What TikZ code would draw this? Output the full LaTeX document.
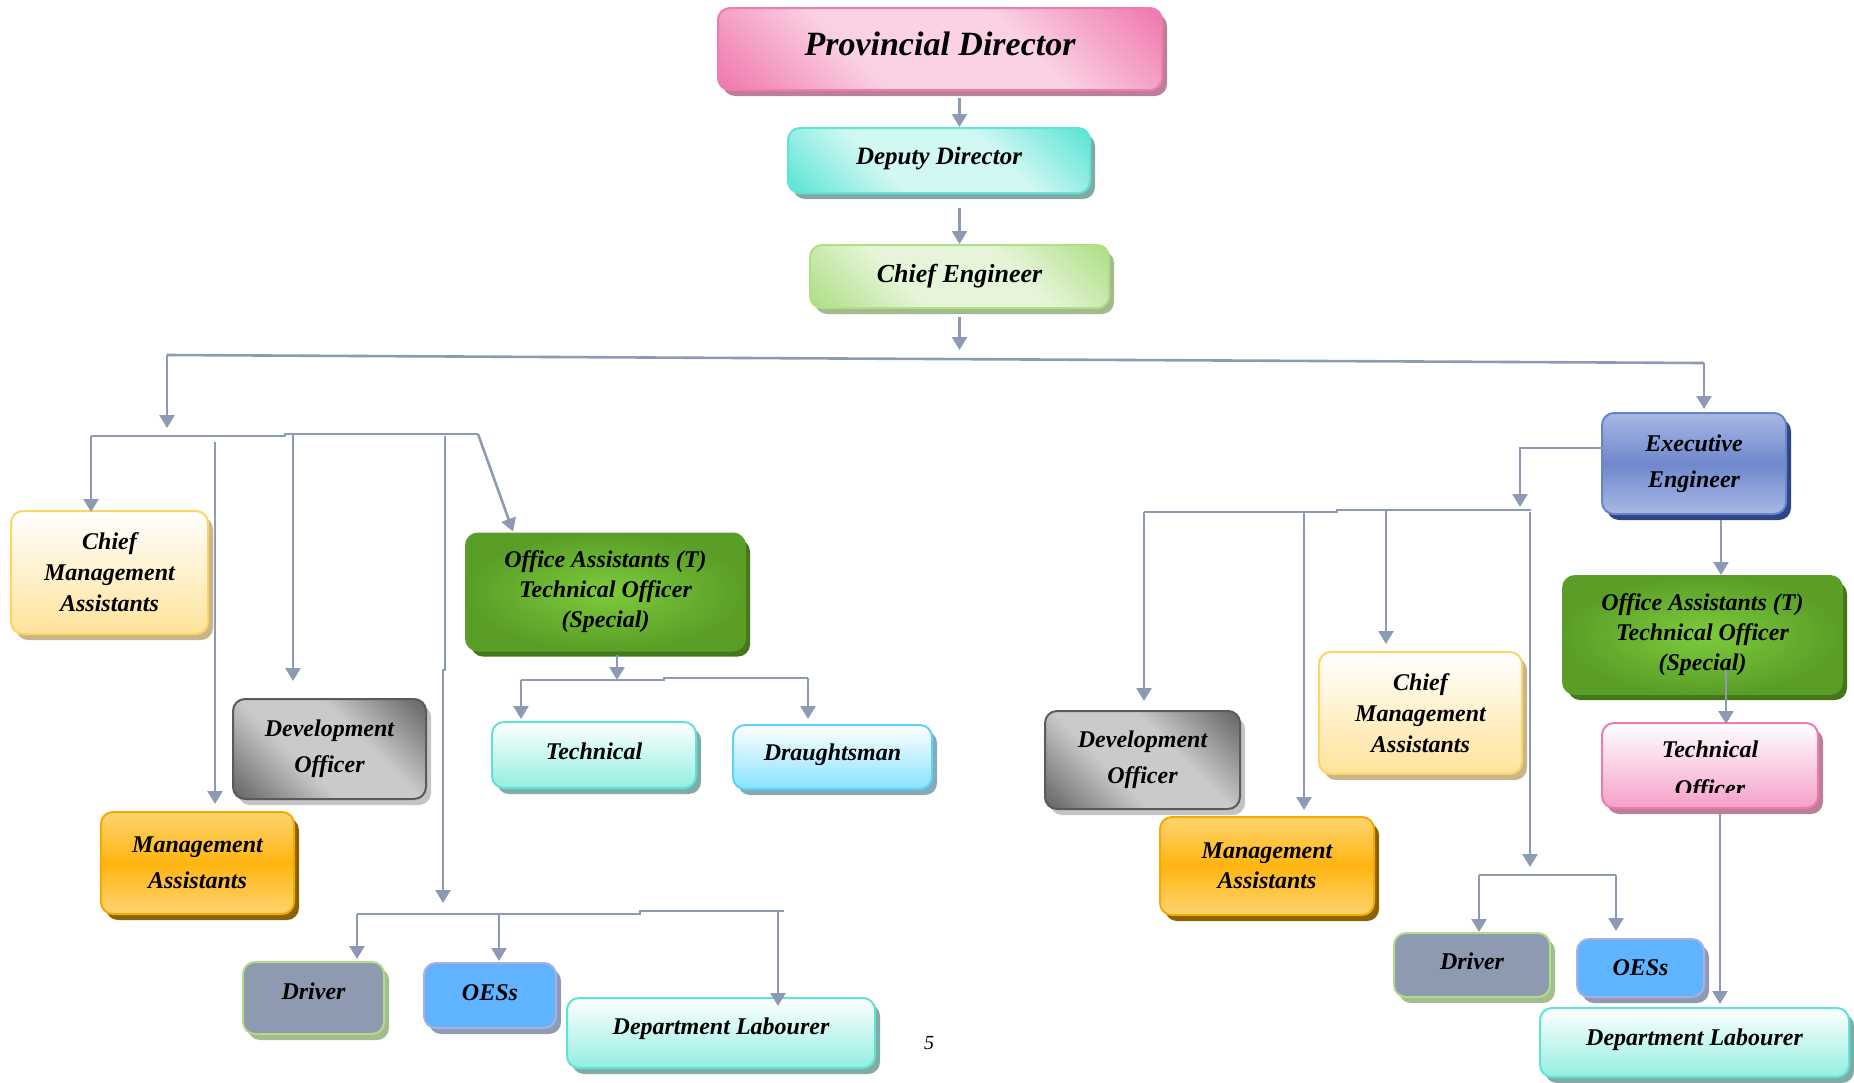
\documentclass[tikz,border=0pt]{standalone}
\usepackage{fontspec}
\setmainfont{Liberation Serif}
\usetikzlibrary{arrows.meta,shadows,calc}
\definecolor{linec}{HTML}{8E9AB3}
\definecolor{pkd}{HTML}{F07BB0}\definecolor{pkl}{HTML}{FAD2E4}\definecolor{pksh}{HTML}{BC7F9A}
\definecolor{aqd}{HTML}{5FE5D6}\definecolor{aql}{HTML}{D2F8F3}\definecolor{aqsh}{HTML}{84A9A5}
\definecolor{gnd}{HTML}{B0DF88}\definecolor{gnl}{HTML}{E6F5D9}\definecolor{gnsh}{HTML}{A3B98E}
\definecolor{yeb}{HTML}{FFE39A}\definecolor{yebd}{HTML}{FFD466}\definecolor{yesh}{HTML}{C8B58A}
\definecolor{gyd}{HTML}{686868}\definecolor{gyl}{HTML}{CACACA}\definecolor{gybd}{HTML}{5A5A5A}\definecolor{gysh}{HTML}{C4C4C4}
\definecolor{ord}{HTML}{FFB511}\definecolor{orl}{HTML}{FED470}\definecolor{orbd}{HTML}{F5A800}\definecolor{orsh}{HTML}{8B6300}
\definecolor{oagl}{HTML}{7DCB3C}\definecolor{oagd}{HTML}{5A9E27}\definecolor{oash}{HTML}{44761A}
\definecolor{tqb}{HTML}{92EEE1}\definecolor{tqbd}{HTML}{5EE3D6}\definecolor{tqsh}{HTML}{83ABA6}
\definecolor{skb}{HTML}{88E2FF}\definecolor{skbd}{HTML}{5CD3FF}\definecolor{sksh}{HTML}{86A9B5}
\definecolor{drvf}{HTML}{8E9AB0}\definecolor{drvbd}{HTML}{B0DC88}\definecolor{drvsh}{HTML}{A3BD8F}
\definecolor{oesf}{HTML}{60B3FF}\definecolor{oesbd}{HTML}{A8B0E0}\definecolor{oessh}{HTML}{9199B5}
\definecolor{eel}{HTML}{A9B8E6}\definecolor{eed}{HTML}{6F88CC}\definecolor{eebd}{HTML}{6A84CA}\definecolor{eesh}{HTML}{2E4684}
\definecolor{tob}{HTML}{F4A0CA}\definecolor{tobd}{HTML}{F07AAE}
\pgfdeclarehorizontalshading{pdsh}{100bp}{color(0bp)=(pkd); color(16bp)=(pkd); color(38bp)=(pkl); color(62bp)=(pkl); color(84bp)=(pkd); color(100bp)=(pkd)}
\pgfdeclarehorizontalshading{ddsh}{100bp}{color(0bp)=(aqd); color(16bp)=(aqd); color(38bp)=(aql); color(62bp)=(aql); color(84bp)=(aqd); color(100bp)=(aqd)}
\pgfdeclarehorizontalshading{cesh}{100bp}{color(0bp)=(gnd); color(16bp)=(gnd); color(38bp)=(gnl); color(62bp)=(gnl); color(84bp)=(gnd); color(100bp)=(gnd)}
\pgfdeclarehorizontalshading{dosh}{100bp}{color(0bp)=(gyd); color(16bp)=(gyd); color(40bp)=(gyl); color(60bp)=(gyl); color(84bp)=(gyd); color(100bp)=(gyd)}
\newcommand\lift[2]{\raisebox{#1}[\height][\depth]{#2}}
\tikzset{
  box/.style={rounded corners=12pt, line width=2pt, align=center, inner sep=2pt,
    font=\fontsize{24}{30}\selectfont\bfseries\itshape},
  wide/.style={font=\fontsize{24}{36}\selectfont\bfseries\itshape},
  diag/.style={shade, shading=#1, shading angle=45},
  vert/.style 2 args={top color=#1, bottom color=#2},
  sh/.style={drop shadow={shadow xshift=5pt, shadow yshift=-6pt, fill=#1, opacity=1}},
  conn/.style={draw=linec, line width=2.6pt},
  arr/.style={conn, -{Triangle[width=15pt,length=13pt]}},
}
\begin{document}
\begin{tikzpicture}[x=1pt,y=-1pt]
\useasboundingbox (0,0) rectangle (1854,1082);
% ---- top chain
\node[box, sh=pksh, diag=pdsh, draw=pkd, minimum width=444pt, minimum height=82pt,
  font=\fontsize{34}{40}\selectfont\bfseries\itshape] (PD) at (940,49) {\lift{5pt}{Provincial Director}};
\node[box, sh=aqsh, diag=ddsh, draw=aqd, minimum width=302pt, minimum height=65pt,
  font=\fontsize{25}{30}\selectfont\bfseries\itshape] (DD) at (939,160.5) {\lift{2pt}{Deputy Director}};
\node[box, sh=gnsh, diag=cesh, draw=gnd, minimum width=299pt, minimum height=63pt,
  font=\fontsize{26}{30}\selectfont\bfseries\itshape] (CE) at (959.5,276.5) {Chief Engineer};
% ---- left branch
\node[box, sh=yesh, vert={white}{yeb}, draw=yebd, minimum width=197pt, minimum height=123pt,
  font=\fontsize{24}{31}\selectfont\bfseries\itshape] (CMAL) at (109.5,572.5) {Chief\\Management\\Assistants};
\node[box, wide, sh=orsh, top color=orl, bottom color=orl, middle color=ord, draw=orbd,
  minimum width=193pt, minimum height=102pt] (MAL) at (197.5,863) {Management\\Assistants};
\node[box, wide, sh=gysh, diag=dosh, draw=gybd, minimum width=193pt, minimum height=100pt]
  (DOL) at (329.5,749) {Development\\Officer};
\node[box, sh=oash, inner color=oagl, outer color=oagd, draw=oagd, minimum width=279pt, minimum height=117pt]
  (OAL) at (605.5,592) {Office Assistants (T)\\Technical Officer\\(Special)};
\node[box, sh=tqsh, vert={white}{tqb}, draw=tqbd, minimum width=204pt, minimum height=66pt]
  (TEL) at (594,755) {\lift{4pt}{Technical}};
\node[box, sh=sksh, vert={white}{skb}, draw=skbd, minimum width=199pt, minimum height=64pt]
  (DR) at (832.5,757) {\lift{2pt}{Draughtsman}};
\node[box, sh=drvsh, fill=drvf, draw=drvbd, minimum width=141pt, minimum height=72pt]
  (DRVL) at (313.5,998) {\lift{7pt}{Driver}};
\node[box, sh=oessh, fill=oesf, draw=oesbd, minimum width=132pt, minimum height=65pt]
  (OESL) at (490,995.5) {\lift{3pt}{OESs}};
\node[box, sh=tqsh, vert={white}{tqb}, draw=tqbd, minimum width=308pt, minimum height=70pt]
  (DLL) at (721,1033) {\lift{4pt}{Department Labourer}};
\node[font=\fontsize{20}{24}\selectfont\itshape] (pg) at (929,1043) {5};
% ---- right branch
\node[box, wide, sh=eesh, top color=eel, bottom color=eel, middle color=eed, draw=eebd,
  minimum width=184pt, minimum height=101pt] (EE) at (1694,463.5) {Executive\\Engineer};
\node[box, sh=oash, inner color=oagl, outer color=oagd, draw=oagd, minimum width=279pt, minimum height=118pt]
  (OAR) at (1702.5,635) {Office Assistants (T)\\Technical Officer\\(Special)};
\node[box, sh=pksh, vert={white}{tob}, draw=tobd, minimum width=216pt, minimum height=85pt]
  (TOR) at (1710,765.5) {};
\begin{scope}
  \clip (1602,723) rectangle (1818,792);
  \node[align=center, inner sep=0pt, font=\fontsize{24}{39}\selectfont\bfseries\itshape] (TORt) at (1710,771) {Technical\\Officer};
\end{scope}
\node[box, wide, sh=gysh, diag=dosh, draw=gybd, minimum width=195pt, minimum height=98pt]
  (DOR) at (1142.5,760) {Development\\Officer};
\node[box, sh=yesh, vert={white}{yeb}, draw=yebd, minimum width=203pt, minimum height=122pt,
  font=\fontsize{24}{31}\selectfont\bfseries\itshape] (CMAR) at (1420.5,713) {Chief\\Management\\Assistants};
\node[box, font=\fontsize{24}{30}\selectfont\bfseries\itshape, sh=orsh, top color=orl, bottom color=orl, middle color=ord, draw=orbd,
  minimum width=214pt, minimum height=98pt] (MAR) at (1267,866) {Management\\Assistants};
\node[box, sh=drvsh, fill=drvf, draw=drvbd, minimum width=156pt, minimum height=64pt]
  (DRVR) at (1472,965) {\lift{4pt}{Driver}};
\node[box, sh=oessh, fill=oesf, draw=oesbd, minimum width=127pt, minimum height=58pt]
  (OESR) at (1640.5,968) {OESs};
\node[box, sh=tqsh, vert={white}{tqb}, draw=tqbd, minimum width=309pt, minimum height=69pt]
  (DLR) at (1694.5,1042.5) {\lift{3pt}{Department Labourer}};
% ---- trunk connectors
\coordinate (tC) at (959.5,350);
\coordinate (tL) at (167,355);
\coordinate (tR) at (1704,363);
\draw[arr] ([yshift=-7pt]PD.south -| CE.north) -- (DD.north -| CE.north);
\draw[arr] ([yshift=-14pt]DD.south -| CE.north) -- (CE.north);
\draw[arr] ([yshift=-8pt]CE.south) -- (tC);
\draw[conn] (tL) -- (tR);
\draw[arr] (tL) -- ++(0,73);
% ---- left bus
\coordinate (L1) at (91,436); \coordinate (L2) at (285,436);
\coordinate (L3) at (285,434); \coordinate (L4) at (478,434);
\draw[conn] (L1) -- (L2) -- (L3) -- (L4);
\draw[arr] (L1) -- ([yshift=-2pt]CMAL.north -| L1);
\coordinate (L5) at (215,442);
\draw[arr] (L5) -- ([yshift=7pt]MAL.north -| L5);
\coordinate (L6) at (293,434);
\draw[arr] (L6) -- ([yshift=17pt]DOL.north -| L6);
\coordinate (L7) at (445,436);
\coordinate (B0) at (443,903);
\draw[arr] (L7) -- ++(0,234) -- ++(-2,0) -- (B0);
\draw[arr] (L4) -- ([xshift=48pt,yshift=1pt]OAL.north west);
% ---- OA left sub-bus
\coordinate (S0) at (617,680);
\draw[arr] ([yshift=-3pt]OAL.south -| S0) -- (S0);
\coordinate (S1) at (521,680); \coordinate (S2) at (664,680);
\coordinate (S3) at (664,678); \coordinate (S4) at (808,678);
\draw[conn] (S1) -- (S2) -- (S3) -- (S4);
\draw[arr] (S1) -- ([yshift=2pt]TEL.north -| S1);
\draw[arr] (S4) -- ([yshift=5pt]DR.north -| S4);
% ---- bottom-left bus
\coordinate (B1) at (357,914); \coordinate (B2) at (640,914);
\coordinate (B3) at (640,911); \coordinate (B4) at (784,911);
\draw[conn] (B1) -- (B2) -- (B3) -- (B4);
\draw[arr] (B1) -- ([yshift=2pt]DRVL.north -| B1);
\coordinate (B5) at (499,914);
\draw[arr] (B5) -- ([yshift=1pt]OESL.north -| B5);
\coordinate (B6) at (778,911);
\draw[arr] (B6) -- ([yshift=-9pt]DLL.north -| B6);
% ---- right side
\draw[arr] (tR) -- ([yshift=3pt]EE.north -| tR);
\coordinate (R0) at (1520,448);
\draw[arr] ([xshift=13pt]EE.west |- R0) -- (R0) -- ++(0,59);
\coordinate (R1) at (1144,512); \coordinate (R2) at (1337,512);
\coordinate (R3) at (1337,510); \coordinate (R4) at (1531,510);
\draw[conn] (R1) -- (R2) -- (R3) -- (R4);
\draw[arr] (R1) -- ([yshift=9pt]DOR.north -| R1);
\coordinate (R5) at (1304,512);
\draw[arr] (R5) -- ([yshift=6pt]MAR.north -| R5);
\coordinate (R6) at (1386,510);
\draw[arr] (R6) -- ([yshift=7pt]CMAR.north -| R6);
\coordinate (R7) at (1530,512); \coordinate (R8) at (1530,867);
\draw[arr] (R7) -- (R8);
\coordinate (R9) at (1479,875); \coordinate (R10) at (1616,875);
\draw[conn] (R9) -- (R10);
\draw[arr] (R9) -- (DRVR.north -| R9);
\draw[arr] (R10) -- ([yshift=7pt]OESR.north -| R10);
\coordinate (R11) at (1721,520);
\draw[arr] (R11) -- (OAR.north -| R11);
\coordinate (R12) at (1726,670);
\draw[arr] (R12) -- ([yshift=-2pt]TOR.north -| R12);
\coordinate (R13) at (1720,813);
\draw[arr] (R13) -- ([yshift=3pt]DLR.north -| R13);
\end{tikzpicture}
\end{document}
